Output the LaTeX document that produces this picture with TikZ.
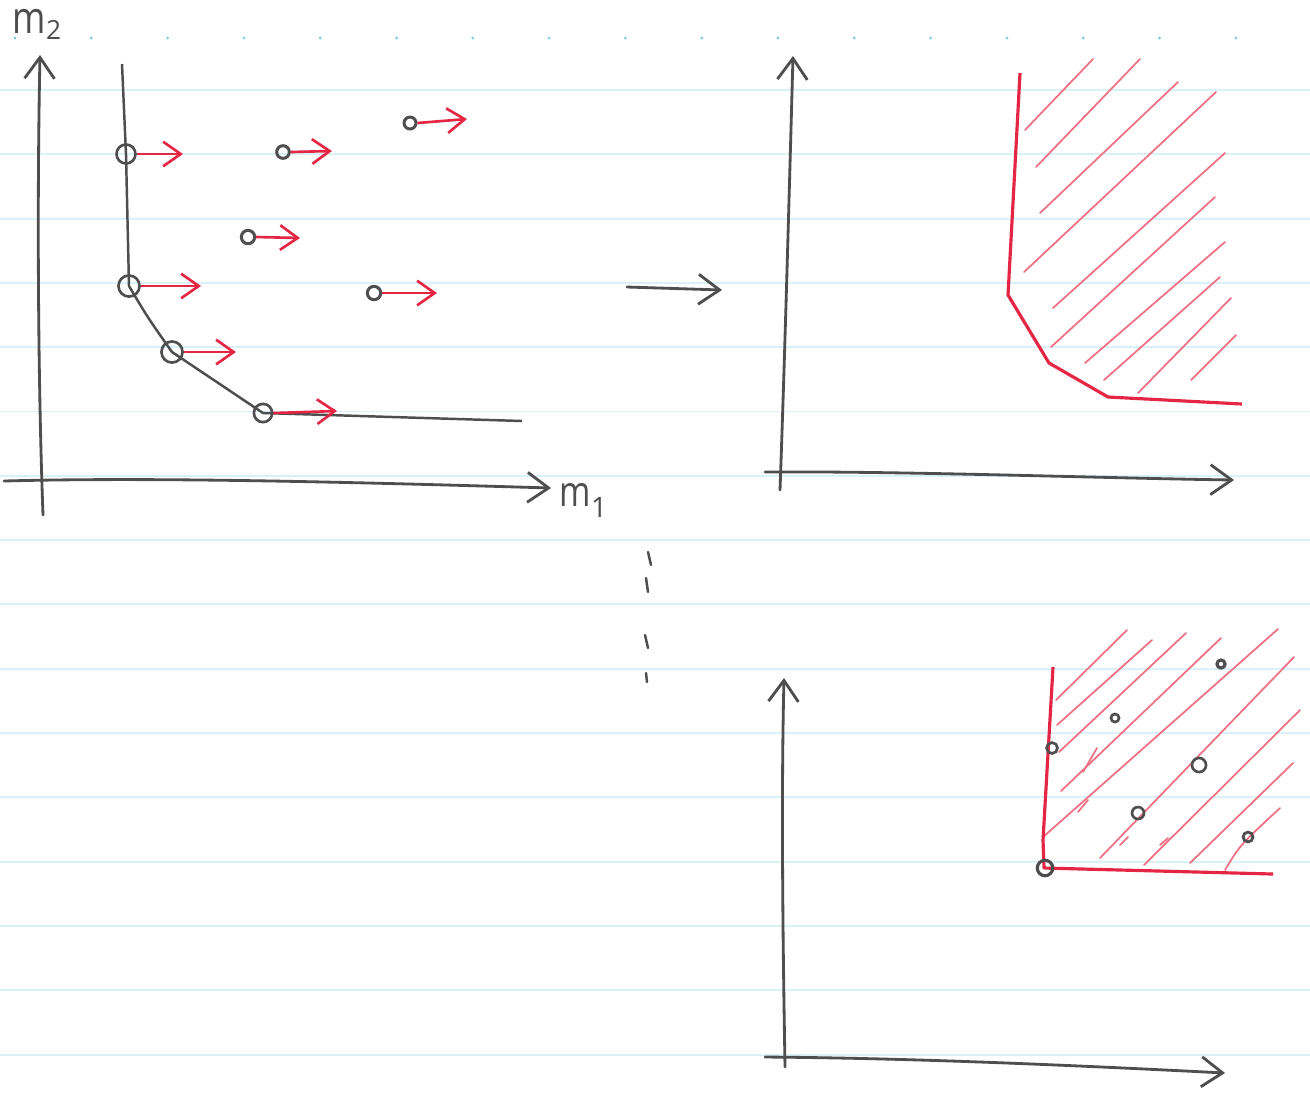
\documentclass[tikz,border=0pt]{standalone}
\usepackage{fontspec}
\newfontfamily\handfont{Open Sans}
\usetikzlibrary{arrows.meta}
\definecolor{pencil}{RGB}{78,78,78}
\definecolor{redpen}{RGB}{228,38,68}
\definecolor{hatchred}{RGB}{238,112,132}
\definecolor{ruleblue}{RGB}{218,241,248}
\definecolor{ruledot}{RGB}{130,205,228}
\begin{document}
\begin{tikzpicture}[x=0.01cm,y=-0.01cm,
  axis/.style={draw=pencil,line width=0.8pt,line cap=round,-{Straight Barb[length=6pt,width=8.5pt]}},
  frontier/.style={draw=pencil,line width=0.7pt,line join=round},
  dotnode/.style={circle,draw=pencil,line width=0.75pt,inner sep=0pt,minimum size=#1},
  dotnode/.default=3.6pt,
  movearrow/.style={draw=redpen,line width=0.75pt,-{Straight Barb[length=5pt,width=7pt]}},
  boundary/.style={draw=redpen,line width=0.9pt,line join=round},
  hatch/.style={draw=hatchred,line width=0.5pt,line cap=round},
  ruleline/.style={draw=ruleblue,line width=0.55pt},
  tick/.style={draw=pencil,line width=0.7pt,line cap=round},
  lbl/.style={text=pencil,font=\handfont\fontsize{12}{12}\selectfont,inner sep=0pt},
]
% page
\fill[white] (0,0) rectangle (1310,1093);
\useasboundingbox (0,0) rectangle (1310,1093);
% ruled paper
\foreach \k in {0,...,15} \draw[ruleline] (0,{90+64.3*\k}) -- (1310,{90+64.3*\k});
\foreach \k in {0,...,17} \fill[ruledot] ({15+76.3*\k},38) circle (0.45pt);

% ===== top-left panel =====
\coordinate (tlY0) at (43,515);
\coordinate (tlY1) at (40,55);
\coordinate (tlX0) at (4,481);
\coordinate (tlX1) at (551,488);
\draw[axis] (tlY0) .. controls (38,380) and (37,200) .. (tlY1);
\draw[axis] (tlX0) .. controls (150,477) and (350,482) .. (tlX1);
\node[lbl,anchor=base west] (m2lab) at (12,33) {\scalebox{0.85}[1.05]{m}\raisebox{-0.3ex}{\fontsize{7.5}{7.5}\selectfont 2}};
\node[lbl,anchor=base west] (m1lab) at (559,506) {\scalebox{0.8}[1]{m}\raisebox{-0.5ex}{\fontsize{8}{8}\selectfont 1}};

% frontier points
\node[dotnode=5.4pt] (f1) at (126,154) {};
\node[dotnode=6pt]   (f2) at (129,286) {};
\node[dotnode=6pt]   (f3) at (172,352) {};
\node[dotnode=5.2pt] (f4) at (263,413) {};
\coordinate (ftop) at (122,64);
\coordinate (fend) at (522,421);
\draw[frontier] (ftop) -- (f1.center) -- (f2.center) .. controls (148,318) .. (f3.center) -- (f4.center) -- (fend);

% other points
\node[dotnode=3.6pt,line width=0.85pt] (q1) at (283,152) {};
\node[dotnode=3.4pt,line width=0.85pt] (q2) at (410,123) {};
\node[dotnode=3.8pt,line width=0.85pt] (q3) at (248,237) {};
\node[dotnode=3.8pt,line width=0.85pt] (q4) at (374,293) {};

% red arrows
\coordinate (f1t) at (183,154);
\coordinate (f2t) at (201,286);
\coordinate (f3t) at (236,352);
\coordinate (f4t) at (337,411);
\coordinate (q1t) at (332,151);
\coordinate (q2t) at (467,119);
\coordinate (q3t) at (300,238);
\coordinate (q4t) at (437,293);
\draw[movearrow] (f1.east) -- (f1t);
\draw[movearrow] (f2.east) -- (f2t);
\draw[movearrow] (f3.east) -- (f3t);
\draw[movearrow] (f4.east) -- (f4t);
\draw[movearrow] (q1.east) -- (q1t);
\draw[movearrow] (q2.east) -- (q2t);
\draw[movearrow] (q3.east) -- (q3t);
\draw[movearrow] (q4.east) -- (q4t);

% ===== middle =====
\coordinate (mid0) at (627,287);
\coordinate (mid1) at (722,290);
\draw[axis] (mid0) -- (mid1);
\draw[tick] (648,552) -- (651,565);
\draw[tick] (646,578) -- (648,592);
\draw[tick] (645,635) -- (648,648);
\draw[tick] (646,673) -- (647,682);

% ===== top-right panel =====
\coordinate (trY0) at (780,490);
\coordinate (trY1) at (793,56);
\coordinate (trX0) at (765,472);
\coordinate (trX1) at (1234,480);
\draw[axis] (trY0) .. controls (785,350) and (789,200) .. (trY1);
\draw[axis] (trX0) .. controls (900,471) and (1100,478) .. (trX1);
% hatching
\draw[hatch] (1025,130) -- (1093,59);
\draw[hatch] (1036,167) -- (1140,59);
\draw[hatch] (1040,213) -- (1178,82);
\draw[hatch] (1024,272) -- (1216,92);
\draw[hatch] (1053,308) -- (1225,153);
\draw[hatch] (1051,347) -- (1215,197);
\draw[hatch] (1085,363) -- (1225,242);
\draw[hatch] (1104,380) -- (1220,277);
\draw[hatch] (1138,393) -- (1231,298);
\draw[hatch] (1191,380) -- (1236,335);
% boundary
\draw[boundary] (1020,73) -- (1008,295) -- (1049,363) -- (1108,397) -- (1242,404);

% ===== bottom-right panel =====
\coordinate (brY0) at (785,1067);
\coordinate (brY1) at (784,678);
\coordinate (brX0) at (765,1057);
\coordinate (brX1) at (1225,1073);
\draw[axis] (brY0) .. controls (783,950) and (781,800) .. (brY1);
\draw[axis] (brX0) .. controls (900,1058) and (1050,1064) .. (brX1);
% hatching
\draw[hatch] (1056,700) -- (1127,630);
\draw[hatch] (1057,725) -- (1152,640);
\draw[hatch] (1059,752) -- (1186,633);
\draw[hatch] (1061,791) -- (1221,638);
\draw[hatch] (1043,837) -- (1278,629);
\draw[hatch] (1100,858) -- (1294,657);
\draw[hatch] (1144,865) -- (1300,710);
\draw[hatch] (1190,863) -- (1293,763);
\draw[hatch] (1225,870) .. controls (1240,845) .. (1280,808);
\draw[hatch] (1083,772) -- (1097,748);
\draw[hatch] (1078,812) -- (1088,800);
\draw[hatch] (1120,845) -- (1128,837);
\draw[hatch] (1160,845) -- (1168,838);
% boundary
\draw[boundary] (1053,667) -- (1043,840) -- (1044,868) -- (1273,874);
% points
\node[dotnode=4.4pt,line width=0.9pt] (c0) at (1045,868) {};
\node[dotnode=3.1pt] (b1) at (1052,748) {};
\node[dotnode=2.3pt] (b2) at (1115,718) {};
\node[dotnode=2.3pt,line width=0.9pt] (b3) at (1221,664) {};
\node[dotnode=4pt]   (b4) at (1199,765) {};
\node[dotnode=3.4pt] (b5) at (1138,813) {};
\node[dotnode=2.8pt,line width=0.8pt] (b6) at (1248,837) {};
\end{tikzpicture}
\end{document}
